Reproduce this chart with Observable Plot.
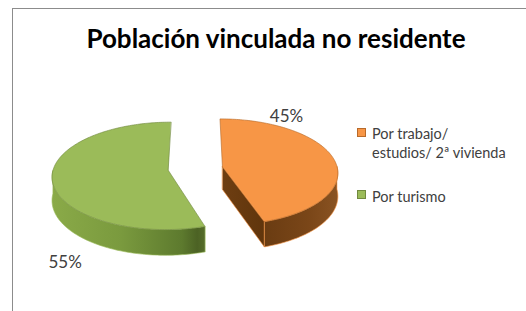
<!DOCTYPE html>
<html><head><meta charset="utf-8">
<script src="https://cdn.jsdelivr.net/npm/d3@7"></script>
<script src="https://cdn.jsdelivr.net/npm/@observablehq/plot@0.6"></script>
<style>
html,body{margin:0;padding:0;background:#fff;}
#wrap{position:relative;width:526px;height:311px;overflow:hidden;font-family:Lato,"Open Sans",sans-serif;}
#frame{position:absolute;left:12px;top:8px;width:600px;height:400px;border-left:1px solid #8c8c8c;border-top:1px solid #8c8c8c;}
#chart{position:absolute;left:0;top:0;}
#legend{position:absolute;left:0;top:0;color:#404040;font-size:14.5px;}
.ln{position:absolute;left:372px;line-height:18px;white-space:nowrap;}
.sw{position:absolute;left:357px;width:7px;height:7px;border:1px solid;}
</style></head><body>
<div id="wrap"><div id="frame"></div><div id="chart"></div><div id="legend"></div></div>
<script>
const title = "Población vinculada no residente";
const categories = ["Por trabajo/ estudios/ 2ª vivienda", "Por turismo"];
const legendLines = [["Por trabajo/", "estudios/ 2ª vivienda"], ["Por turismo"]];
const values = [45, 55];
const topColors = ["#F79646", "#9BBB59"];
const edgeColors = ["#b86a2a", "#71893f"];

const W = 526, H = 311;
const unit = 115, cxPx = 195, cyPx = 168;
const k = 0.459, persp = 0.1, depth = 0.2, explode = 0.238;

const total = d3.sum(values);
const arcs = d3.pie().sort(null)(values);

function proj(X, Z, h) { const s = 1 / (1 + persp * Z); return {x: X * s, y: (Z * k + h) * s}; }
function rim(a, c, h) { return proj(c.X + Math.sin(a), c.Z + Math.cos(a), h); }
function arcPts(a0, a1, c, h) {
  const n = Math.max(2, Math.ceil(Math.abs(a1 - a0) / 0.02));
  return d3.range(n + 1).map(j => rim(a0 + (a1 - a0) * j / n, c, h));
}

const faces = [];
const labels = [];
arcs.forEach((arc, i) => {
  const a0 = arc.startAngle, a1 = arc.endAngle, mid = (a0 + a1) / 2;
  const c = {X: explode * Math.sin(mid), Z: explode * Math.cos(mid)};
  const v = proj(c.X, c.Z, 0), vb = proj(c.X, c.Z, -depth);
  [[a0, a0 - Math.PI / 2], [a1, a1 + Math.PI / 2]].forEach(([a, n]) => {
    if (Math.cos(n) < -0.05) {
      faces.push({pts: [v, rim(a, c, 0), rim(a, c, -depth), vb], fill: `url(#rad${i})`, stroke: topColors[i]});
    }
  });
  const w0 = Math.max(a0, Math.PI / 2), w1 = Math.min(a1, 3 * Math.PI / 2);
  if (w1 > w0) {
    const topE = arcPts(w0, w1, c, 0), botE = arcPts(w1, w0, c, -depth);
    faces.push({pts: topE.concat(botE), fill: `url(#wall${i})`, stroke: topColors[i]});
  }
  faces.push({pts: [v].concat(arcPts(a0, a1, c, 0)), fill: topColors[i], stroke: edgeColors[i]});
  const front = Math.cos(mid) < 0;
  const la = front ? a0 + 0.37 * (a1 - a0) : a0 + 0.2 * (a1 - a0);
  const p = front ? proj(c.X + 1.05 * Math.sin(la), c.Z + 1.05 * Math.cos(la), -depth)
                  : proj(c.X + 1.1 * Math.sin(la), c.Z + 1.1 * Math.cos(la), 0);
  labels.push({x: p.x, y: p.y, text: d3.format(".0%")(arc.value / total), dy: front ? 33.5 : -5});
});

const marks = faces.map(f => Plot.line(f.pts, {x: "x", y: "y", curve: "linear-closed", fill: f.fill, stroke: f.stroke, strokeWidth: 0.7, strokeOpacity: 0.9}));
labels.forEach(l => marks.push(Plot.text([l], {x: "x", y: "y", text: "text", dx: 4.5, dy: l.dy, fontSize: 17, fill: "#404040", fontFamily: "Lato"})));
marks.push(Plot.text([title], {frameAnchor: "top", dx: 12.5, dy: 47, lineAnchor: "bottom", fontSize: 26, fontWeight: "bold", fill: "#000", fontFamily: "Lato"}));

const svg = Plot.plot({
  width: W, height: H, margin: 0,
  x: {domain: [-cxPx / unit, (W - cxPx) / unit], axis: null},
  y: {domain: [-(H - cyPx) / unit, cyPx / unit], axis: null},
  style: {background: "transparent", overflow: "visible"},
  marks
});

const defs = d3.select(svg).insert("defs", ":first-child");
function grad(id, stops) {
  const g = defs.append("linearGradient").attr("id", id).attr("x1", 0).attr("x2", 1).attr("y1", 0).attr("y2", 0);
  stops.forEach(([o, col]) => g.append("stop").attr("offset", o).attr("stop-color", col));
}
grad("wall0", [[0, "#6a3c12"], [0.6, "#7a4618"], [1, "#8a5322"]]);
grad("rad0", [[0, "#6e3e12"], [1, "#60350c"]]);
grad("wall1", [[0, "#8aaa48"], [0.45, "#7a9a3e"], [0.85, "#5d7a2e"], [0.95, "#4c6224"], [1, "#566e2a"]]);
grad("rad1", [[0, "#6e8a36"], [1, "#5a7430"]]);
document.getElementById("chart").appendChild(svg);

// legend: baselines at 140, 158.5 and 202.3 px
const legend = d3.select("#legend");
const rowTop = [125.4, 187.7];
legendLines.forEach((lines, i) => {
  legend.append("span").attr("class", "sw").style("top", (rowTop[i] + 2.6) + "px")
    .style("background", topColors[i]).style("border-color", edgeColors[i]);
  lines.forEach((t, j) => legend.append("div").attr("class", "ln").style("top", (rowTop[i] + j * 18.5) + "px").text(t));
});
</script>
</body></html>
